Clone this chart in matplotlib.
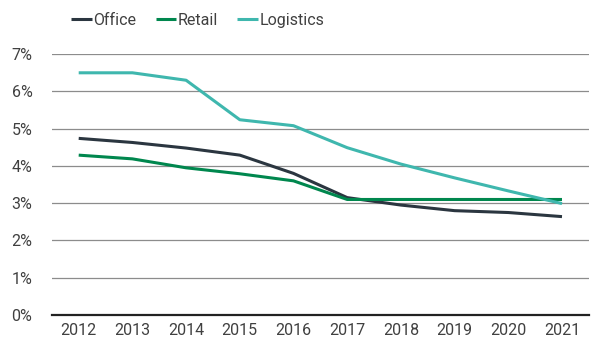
import matplotlib
matplotlib.use("Agg")
import matplotlib.pyplot as plt

years = [2012, 2013, 2014, 2015, 2016, 2017, 2018, 2019, 2020, 2021]
office = [4.74, 4.63, 4.48, 4.29, 3.80, 3.15, 2.95, 2.80, 2.75, 2.64]
retail = [4.29, 4.19, 3.95, 3.79, 3.60, 3.10, 3.10, 3.10, 3.10, 3.10]
logistics = [6.50, 6.50, 6.30, 5.24, 5.08, 4.49, 4.05, 3.68, 3.33, 2.99]

colors = {"Office": "#2b3640", "Retail": "#00874e", "Logistics": "#3fb7ae"}
text_color = "#404040"

plt.rcParams['font.family'] = ['Roboto', 'DejaVu Sans']

fig = plt.figure(figsize=(5.96, 3.45), dpi=100)
ax = fig.add_axes([0.087, 0.087, 0.901, 0.756])

for name, vals in [("Office", office), ("Retail", retail), ("Logistics", logistics)]:
    ax.plot(years, vals, color=colors[name], lw=2.2, label=name, solid_capstyle='butt')

ax.set_xlim(2011.5, 2021.5)
ax.set_ylim(0, 7)
ax.set_yticks(range(0, 8))
ax.set_yticklabels([f"{i}%" for i in range(0, 8)])
ax.set_xticks(years)
ax.set_xticklabels([str(y) for y in years])

ax.grid(axis='y', color='#8c8c8c', lw=0.9)
ax.set_axisbelow(True)
for s in ['top', 'right', 'left']:
    ax.spines[s].set_visible(False)
ax.spines['bottom'].set_color('#222222')
ax.spines['bottom'].set_linewidth(1.6)
ax.tick_params(axis='both', length=0, labelsize=11.5, colors=text_color, pad=6)
ax.tick_params(axis='y', pad=14)

leg = fig.legend(loc='upper left', bbox_to_anchor=(0.095, 1.005), ncol=3, frameon=False,
                 fontsize=11.5, handlelength=1.3, handletextpad=0.1, columnspacing=1.2)
for t in leg.get_texts():
    t.set_color(text_color)

fig.savefig("out.png", dpi=100)
plt.close('all')
